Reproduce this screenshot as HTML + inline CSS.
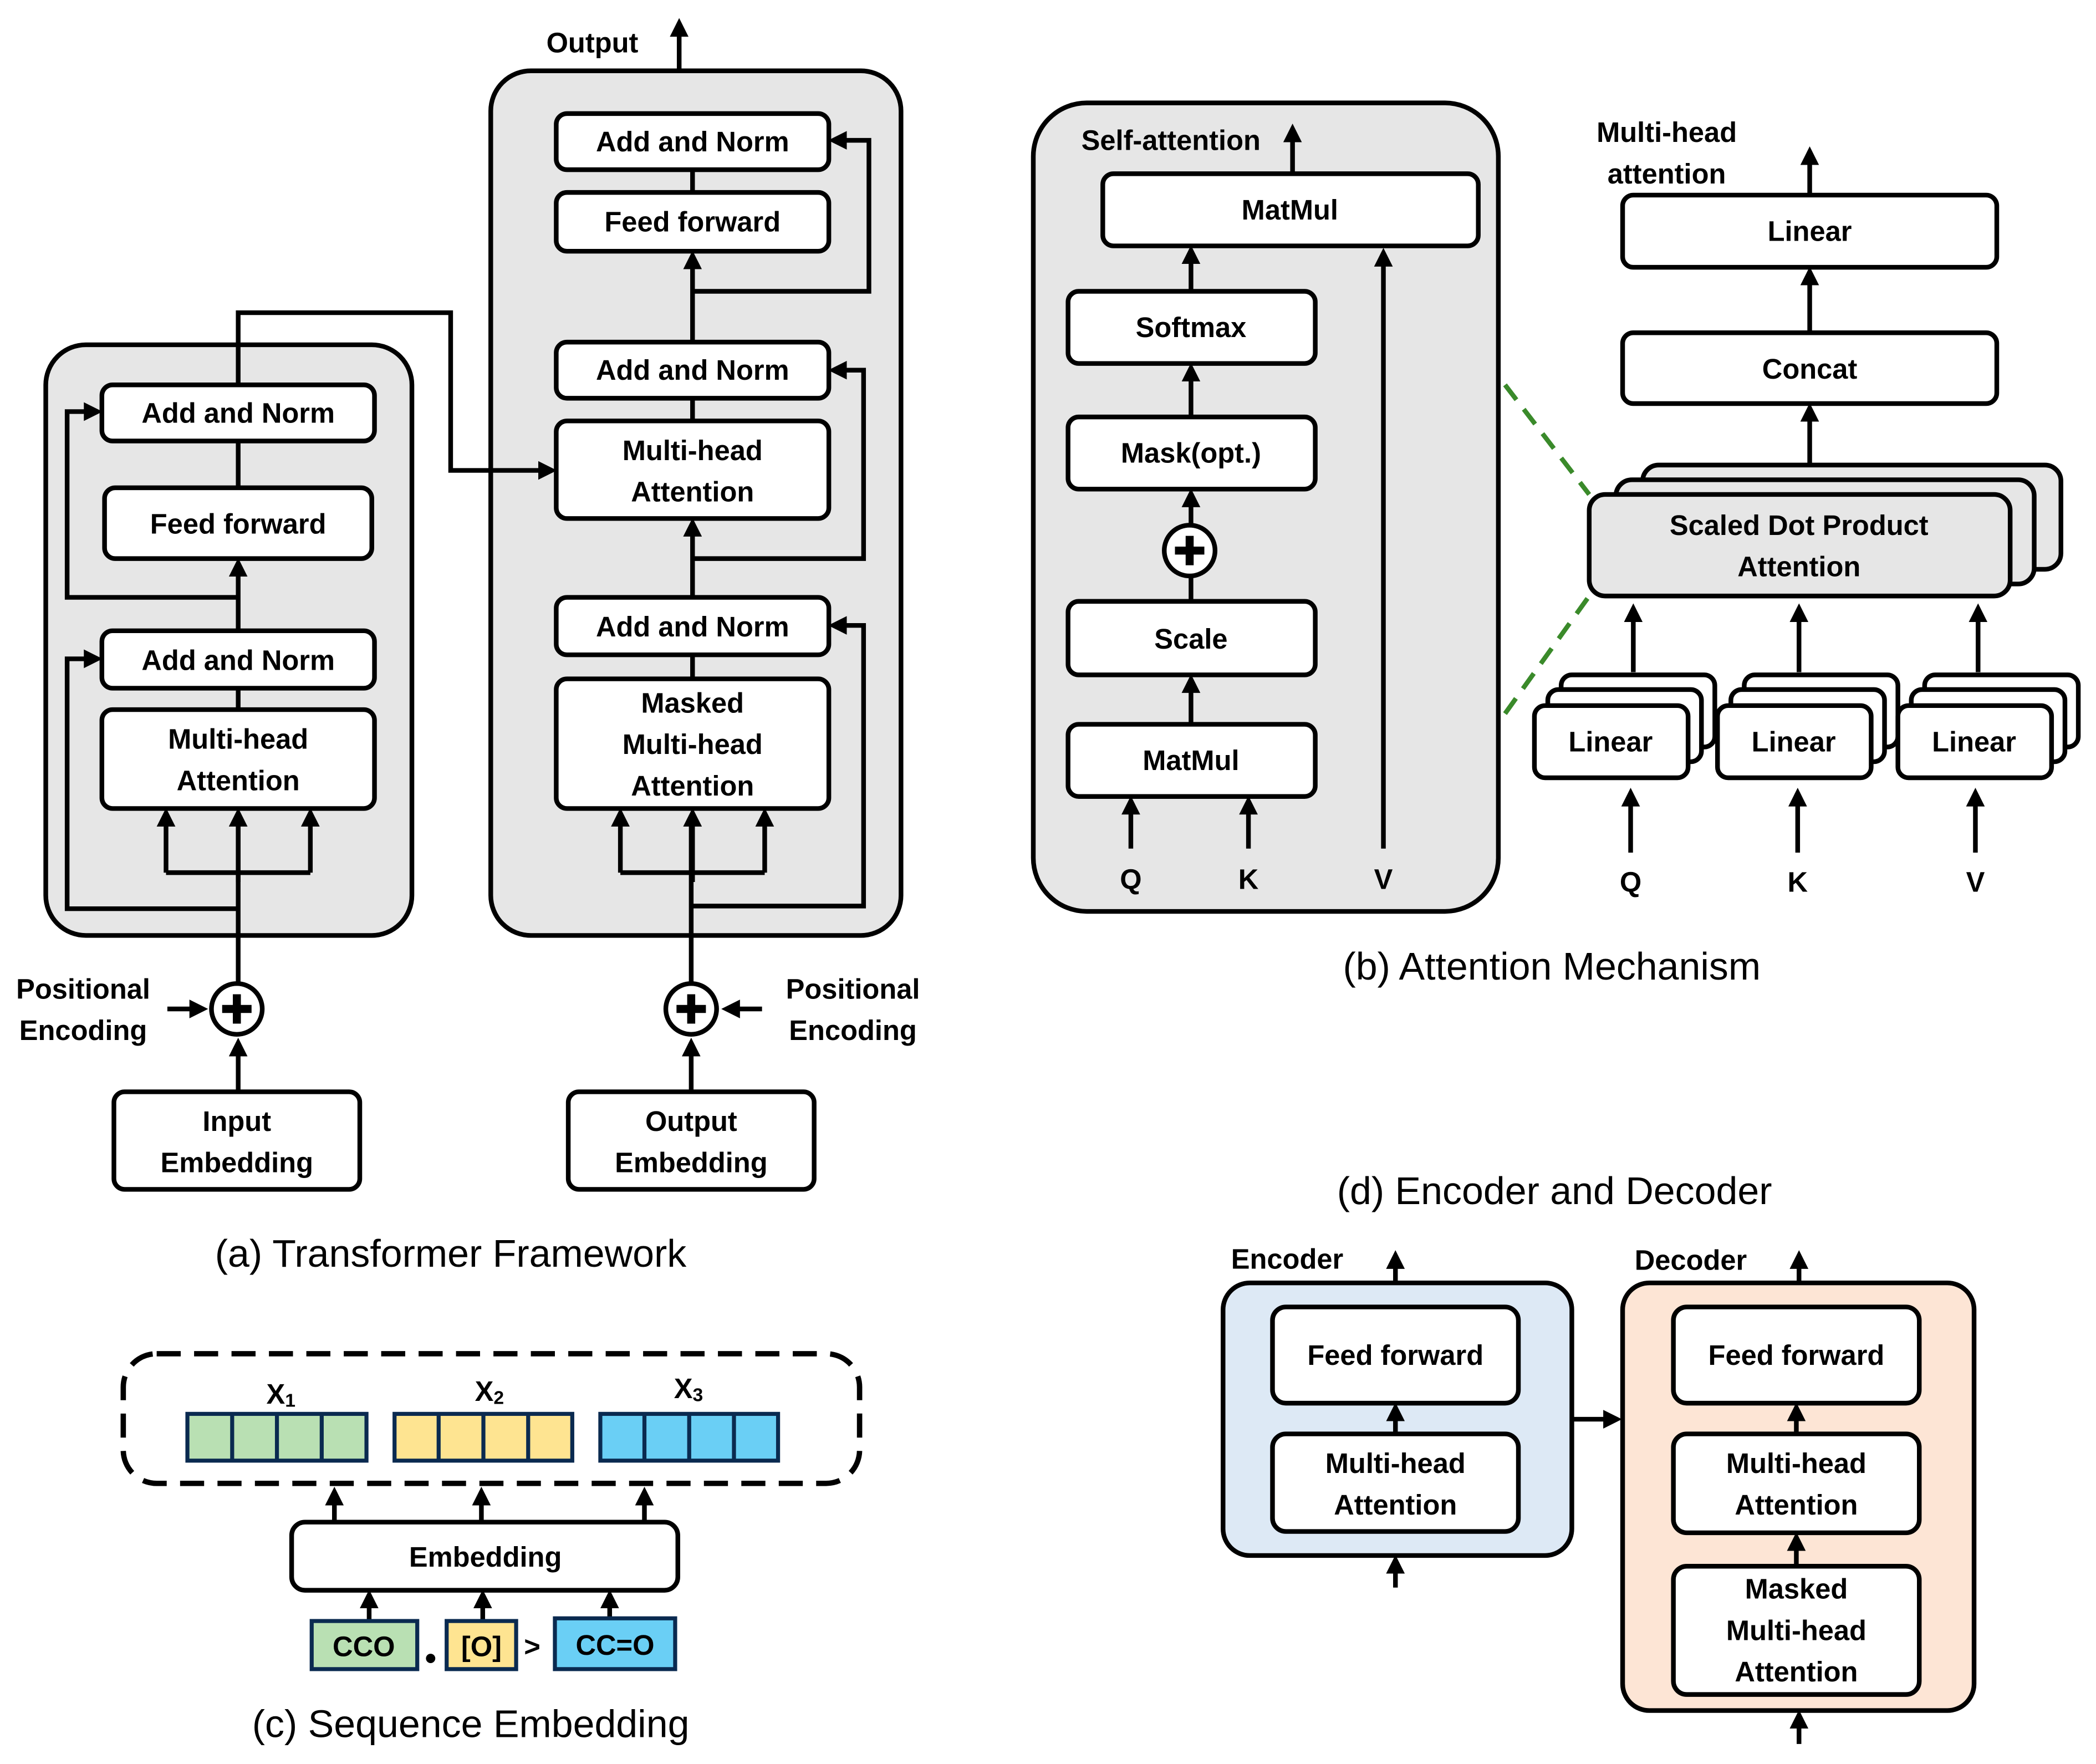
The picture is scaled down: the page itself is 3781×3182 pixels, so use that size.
<!DOCTYPE html>
<html><head><meta charset="utf-8"><style>
html,body{margin:0;padding:0;background:#fff}
svg{display:block}
text{font-family:"Liberation Sans",sans-serif;font-weight:bold;font-size:21px;fill:#000;text-anchor:middle;dominant-baseline:central}
.cap{font-weight:normal;font-size:29px}
.b{fill:#fff;stroke:#000;stroke-width:3.5}
.g{fill:#e6e6e6;stroke:#000;stroke-width:3.5}
.l{fill:none;stroke:#000;stroke-width:3.5}
.a{fill:none;stroke:#000;stroke-width:3.5;marker-end:url(#ah)}
</style></head><body>
<svg width="3781" height="3182" viewBox="0 0 1568 1320" xmlns="http://www.w3.org/2000/svg">
<defs><marker id="ah" markerWidth="4" markerHeight="4" refX="3" refY="2" orient="auto" markerUnits="strokeWidth"><path d="M0,0 L4,2 L0,4 z" fill="#000"/></marker></defs>

<!-- (a) encoder -->
<rect class="g" x="34" y="258" width="274" height="442" rx="30"/>
<path class="l" d="M178,735 V610"/>
<path class="a" d="M178,660 V608"/>
<path class="l" d="M124,653 H232"/>
<path class="a" d="M124,653 V608"/>
<path class="a" d="M232,653 V608"/>
<path class="a" d="M178,680 H50 V493 H73"/>
<path class="l" d="M178,515 V531"/>
<path class="a" d="M178,472 V421"/>
<path class="a" d="M178,447 H50 V308 H73"/>
<path class="l" d="M178,330 V365"/>
<rect class="b" x="76" y="288" width="204" height="42" rx="8"/><text x="178" y="309">Add and Norm</text>
<rect class="b" x="78" y="365" width="200" height="53" rx="8"/><text x="178" y="392">Feed forward</text>
<rect class="b" x="76" y="472" width="204" height="43" rx="8"/><text x="178" y="494">Add and Norm</text>
<rect class="b" x="76" y="531" width="204" height="74" rx="8"/><text x="178" y="553">Multi-head</text><text x="178" y="584">Attention</text>
<circle class="b" cx="177" cy="755" r="19"/><path d="M177,744 V766 M166,755 H188" stroke="#000" stroke-width="6"/>
<path class="a" d="M178,817 V780"/>
<path class="a" d="M125,755 H152"/>
<text x="62" y="740">Positional</text><text x="62" y="771">Encoding</text>
<rect class="b" x="85" y="817" width="184" height="73" rx="8"/><text x="177" y="839">Input</text><text x="177" y="870">Embedding</text>

<!-- (a) decoder -->
<rect class="g" x="367" y="53" width="307" height="647" rx="30"/>
<path class="a" d="M178,288 V234 H337 V352 H413"/>
<path class="a" d="M508,53 V17"/>
<text x="443" y="32">Output</text>
<path class="l" d="M518,127 V144"/>
<path class="a" d="M518,256 V191"/>
<path class="a" d="M518,218 H650 V105 H623"/>
<path class="l" d="M518,298 V315"/>
<path class="a" d="M518,447 V391"/>
<path class="a" d="M518,418 H646 V277 H623"/>
<path class="l" d="M518,490 V508"/>
<path class="l" d="M517,735 V610"/>
<path class="a" d="M518,660 V608"/>
<path class="l" d="M464,653 H572"/>
<path class="a" d="M464,653 V608"/>
<path class="a" d="M572,653 V608"/>
<path class="a" d="M518,678 H646 V468 H623"/>
<rect class="b" x="416" y="85" width="204" height="42" rx="8"/><text x="518" y="106">Add and Norm</text>
<rect class="b" x="416" y="144" width="204" height="44" rx="8"/><text x="518" y="166">Feed forward</text>
<rect class="b" x="416" y="256" width="204" height="42" rx="8"/><text x="518" y="277">Add and Norm</text>
<rect class="b" x="416" y="315" width="204" height="73" rx="8"/><text x="518" y="337">Multi-head</text><text x="518" y="368">Attention</text>
<rect class="b" x="416" y="447" width="204" height="43" rx="8"/><text x="518" y="469">Add and Norm</text>
<rect class="b" x="416" y="508" width="204" height="97" rx="8"/><text x="518" y="526">Masked</text><text x="518" y="557">Multi-head</text><text x="518" y="588">Attention</text>
<circle class="b" cx="517" cy="755" r="19"/><path d="M517,744 V766 M506,755 H528" stroke="#000" stroke-width="6"/>
<path class="a" d="M517,817 V780"/>
<path class="a" d="M570,755 H543"/>
<text x="638" y="740">Positional</text><text x="638" y="771">Encoding</text>
<rect class="b" x="425" y="817" width="184" height="73" rx="8"/><text x="517" y="839">Output</text><text x="517" y="870">Embedding</text>
<text class="cap" x="337" y="938">(a) Transformer Framework</text>

<!-- (b) -->
<rect class="g" x="773" y="77" width="348" height="605" rx="40"/>
<path class="a" d="M967,130 V96"/>
<text x="876" y="105">Self-attention</text>
<rect class="b" x="825" y="130" width="281" height="54" rx="8"/><text x="965" y="157">MatMul</text>
<path class="a" d="M891,218 V187"/>
<path class="a" d="M891,312 V275"/>
<path class="a" d="M891,392 V369"/>
<path class="l" d="M891,450 V432"/>
<path class="a" d="M891,542 V508"/>
<rect class="b" x="799" y="218" width="185" height="54" rx="8"/><text x="891" y="245">Softmax</text>
<rect class="b" x="799" y="312" width="185" height="54" rx="8"/><text x="891" y="339">Mask(opt.)</text>
<circle class="b" cx="890" cy="412" r="19"/><path d="M890,401 V423 M879,412 H901" stroke="#000" stroke-width="6"/>
<rect class="b" x="799" y="450" width="185" height="55" rx="8"/><text x="891" y="478">Scale</text>
<rect class="b" x="799" y="542" width="185" height="54" rx="8"/><text x="891" y="569">MatMul</text>
<path class="a" d="M846,635 V599"/><path class="a" d="M934,635 V599"/><path class="a" d="M1035,635 V189"/>
<text x="846" y="658">Q</text><text x="934" y="658">K</text><text x="1035" y="658">V</text>

<text x="1247" y="99">Multi-head</text><text x="1247" y="130">attention</text>
<path class="a" d="M1354,146 V113"/>
<rect class="b" x="1214" y="146" width="280" height="54" rx="8"/><text x="1354" y="173">Linear</text>
<path class="a" d="M1354,249 V203"/>
<rect class="b" x="1214" y="249" width="280" height="53" rx="8"/><text x="1354" y="276">Concat</text>
<path class="a" d="M1354,348 V305"/>
<rect class="g" x="1229" y="348" width="313" height="78" rx="12"/>
<rect class="g" x="1209" y="359" width="313" height="78" rx="12"/>
<rect class="g" x="1189" y="370" width="315" height="76" rx="12"/>
<text x="1346" y="393">Scaled Dot Product</text><text x="1346" y="424">Attention</text>
<path d="M1126,288 L1189,370 M1126,534 L1189,446" stroke="#3a8a2a" stroke-width="3.5" stroke-dasharray="14 9" fill="none"/>
<path class="a" d="M1222,503 V455"/><path class="a" d="M1346,503 V455"/><path class="a" d="M1480,503 V455"/>
<g>
<rect class="b" x="1168" y="505" width="115" height="54" rx="8"/><rect class="b" x="1158" y="516" width="115" height="54" rx="8"/><rect class="b" x="1148" y="528" width="115" height="54" rx="8"/><text x="1205" y="555">Linear</text>
<rect class="b" x="1305" y="505" width="115" height="54" rx="8"/><rect class="b" x="1295" y="516" width="115" height="54" rx="8"/><rect class="b" x="1285" y="528" width="115" height="54" rx="8"/><text x="1342" y="555">Linear</text>
<rect class="b" x="1440" y="505" width="115" height="54" rx="8"/><rect class="b" x="1430" y="516" width="115" height="54" rx="8"/><rect class="b" x="1420" y="528" width="115" height="54" rx="8"/><text x="1477" y="555">Linear</text>
</g>
<path class="a" d="M1220,638 V593"/><path class="a" d="M1345,638 V593"/><path class="a" d="M1478,638 V593"/>
<text x="1220" y="660">Q</text><text x="1345" y="660">K</text><text x="1478" y="660">V</text>
<text class="cap" x="1161" y="723">(b) Attention Mechanism</text>

<!-- (d) -->
<text class="cap" x="1163" y="891">(d) Encoder and Decoder</text>
<rect x="915" y="960" width="261" height="204" rx="20" fill="#dde9f5" stroke="#000" stroke-width="3.5"/>
<text x="963" y="942">Encoder</text>
<path class="a" d="M1044,960 V939"/>
<rect class="b" x="952" y="978" width="184" height="72" rx="10"/><text x="1044" y="1014">Feed forward</text>
<path class="a" d="M1044,1073 V1053"/>
<rect class="b" x="952" y="1073" width="184" height="73" rx="10"/><text x="1044" y="1095">Multi-head</text><text x="1044" y="1126">Attention</text>
<path class="a" d="M1044,1188 V1167"/>
<path class="a" d="M1176,1062 H1210"/>
<rect x="1214" y="960" width="263" height="320" rx="20" fill="#fde5d5" stroke="#000" stroke-width="3.5"/>
<text x="1265" y="943">Decoder</text>
<path class="a" d="M1346,960 V939"/>
<rect class="b" x="1252" y="978" width="184" height="72" rx="10"/><text x="1344" y="1014">Feed forward</text>
<path class="a" d="M1344,1073 V1053"/>
<rect class="b" x="1252" y="1073" width="184" height="74" rx="10"/><text x="1344" y="1095">Multi-head</text><text x="1344" y="1126">Attention</text>
<path class="a" d="M1344,1172 V1150"/>
<rect class="b" x="1252" y="1172" width="184" height="96" rx="10"/><text x="1344" y="1189">Masked</text><text x="1344" y="1220">Multi-head</text><text x="1344" y="1251">Attention</text>
<path class="a" d="M1346,1305 V1283"/>

<!-- (c) -->
<rect x="92" y="1013" width="551" height="97" rx="25" fill="none" stroke="#000" stroke-width="4" stroke-dasharray="18 10"/>
<text x="210" y="1043">X<tspan font-size="14" dy="5">1</tspan></text>
<text x="366" y="1041">X<tspan font-size="14" dy="5">2</tspan></text>
<text x="515" y="1039">X<tspan font-size="14" dy="5">3</tspan></text>
<g stroke="#0a2a50" stroke-width="3">
<rect x="140" y="1058" width="134" height="35" fill="#b9e0b3"/><path d="M173.5,1058V1093M207,1058V1093M240.5,1058V1093"/>
<rect x="295" y="1058" width="133" height="35" fill="#fee491"/><path d="M328,1058V1093M361.5,1058V1093M395,1058V1093"/>
<rect x="449" y="1058" width="133" height="35" fill="#6acff5"/><path d="M482,1058V1093M515.5,1058V1093M549,1058V1093"/>
</g>
<path class="a" d="M250,1139 V1116"/><path class="a" d="M360,1139 V1116"/><path class="a" d="M482,1139 V1116"/>
<rect class="b" x="218" y="1139" width="289" height="51" rx="10"/><text x="363" y="1165">Embedding</text>
<path class="a" d="M276,1213 V1193"/><path class="a" d="M361,1213 V1193"/><path class="a" d="M456,1211 V1193"/>
<g stroke="#0a2a50" stroke-width="3">
<rect x="233" y="1213" width="79" height="36" fill="#b9e0b3"/>
<rect x="334" y="1213" width="52" height="36" fill="#fee491"/>
<rect x="415" y="1211" width="90" height="38" fill="#6acff5"/>
</g>
<text x="272" y="1232">CCO</text>
<circle cx="322" cy="1241" r="3.5" fill="#000"/>
<text x="360" y="1232">[O]</text>
<text x="398" y="1232">&gt;</text>
<text x="460" y="1231">CC=O</text>
<text class="cap" x="352" y="1290">(c) Sequence Embedding</text>
</svg>
</body></html>
